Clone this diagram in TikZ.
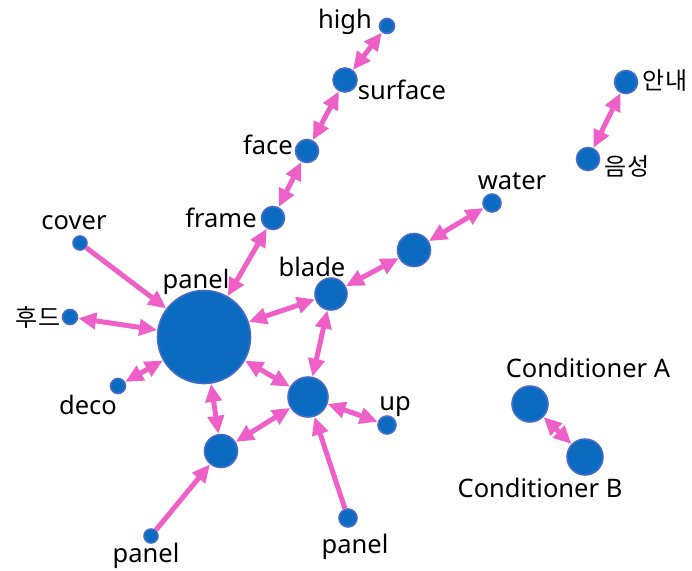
\documentclass[tikz,border=0pt]{standalone}
\usepackage{fontspec}
\setmainfont{Noto Sans}
\newfontfamily\krfont{Noto Sans CJK KR}
\usetikzlibrary{arrows.meta}
\definecolor{nodefill}{HTML}{0A6BC0}
\definecolor{nodeline}{HTML}{4A6CC8}
\definecolor{edgepink}{HTML}{EE5FC8}
\begin{document}
\begin{tikzpicture}[x=1pt,y=-1pt,
  vert/.style={circle,fill=nodefill,draw=nodeline,line width=1.6pt,inner sep=0pt,minimum size=#1},
  lbl/.style={font=\fontsize{25.5}{25.5}\selectfont,text=black,inner sep=0pt,anchor=base},
  klbl/.style={font=\krfont\fontsize{24}{24}\selectfont,text=black,inner sep=0pt},
  link/.style={draw=edgepink,line width=5pt,{Triangle[length=18pt,width=16pt]}-{Triangle[length=18pt,width=16pt]}},
  feed/.style={draw=edgepink,line width=5pt,-{Triangle[length=18pt,width=16pt]}}]
\useasboundingbox (0,0) rectangle (692,570);
% vertices
\node[vert=93pt] (panel) at (204,337) {};
\node[vert=32pt] (blade) at (331,294) {};
\node[vert=40pt] (hubup) at (308,397) {};
\node[vert=33pt] (hubdown) at (221,451) {};
\node[vert=33pt] (hubwater) at (414,250) {};
\node[vert=18pt] (water) at (492,203) {};
\node[vert=18pt] (up) at (387,425) {};
\node[vert=14pt] (panelA) at (151,536) {};
\node[vert=18pt] (panelB) at (348,518) {};
\node[vert=14pt] (cover) at (80,243) {};
\node[vert=15pt] (hood) at (70,317) {};
\node[vert=15pt] (deco) at (118,386) {};
\node[vert=23pt] (frame) at (273,218) {};
\node[vert=23pt] (face) at (307,151) {};
\node[vert=24pt] (surface) at (345,80) {};
\node[vert=15pt] (high) at (387,26) {};
\node[vert=23pt] (guide) at (626,82) {};
\node[vert=23pt] (voice) at (588,159) {};
\node[vert=36pt] (condA) at (530,404) {};
\node[vert=36pt] (condB) at (585,457) {};
% labels (placed on their baselines)
\node[lbl] at (345,28) {high};
\node[lbl] at (402,99) {surface};
\node[lbl] at (268,154) {face};
\node[lbl] at (221,227) {frame};
\node[lbl] at (74,229) {cover};
\node[lbl] at (196,288) {panel};
\node[klbl] at (38,317) {후드};
\node[lbl] at (88,414) {deco};
\node[lbl] at (312,276) {blade};
\node[lbl] at (512,189) {water};
\node[lbl] at (395,410) {up};
\node[lbl] at (146,562) {panel};
\node[lbl] at (355,553) {panel};
\node[lbl] at (588,377) {Conditioner A};
\node[lbl] at (540,497) {Conditioner B};
\node[klbl] at (665,81) {안내};
\node[klbl] at (627,166) {음성};
% connectors
\draw[feed] (cover) -- (panel);
\draw[feed] (panelA) -- (hubdown);
\draw[feed] (panelB) -- (hubup);
\draw[link] (hood) -- (panel);
\draw[link] (deco) -- (panel);
\draw[link] (frame) -- (panel);
\draw[link] (face) -- (frame);
\draw[link] (surface) -- (face);
\draw[link] (high) -- (surface);
\draw[link] (blade) -- (panel);
\draw[link] (hubup) -- (panel);
\draw[link] (hubdown) -- (panel);
\draw[link] (blade) -- (hubup);
\draw[link] (blade) -- (hubwater);
\draw[link] (hubwater) -- (water);
\draw[link] (hubup) -- (up);
\draw[link] (hubup) -- (hubdown);
\draw[link] (guide) -- (voice);
\draw[link] (condA) -- (condB);
\end{tikzpicture}
\end{document}
